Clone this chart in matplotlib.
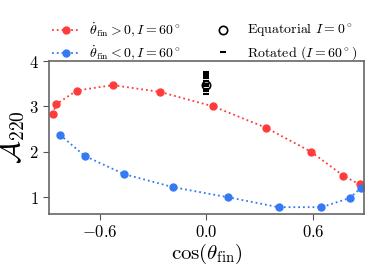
import numpy as np
import matplotlib
matplotlib.use('Agg')
from matplotlib import pyplot as plt

plt.rcParams['mathtext.fontset'] = 'cm'
plt.rcParams['font.family'] = 'serif'
plt.rcParams['font.serif'] = ['cmr10']
plt.rcParams['axes.formatter.use_mathtext'] = True

# theta_dot > 0 branch
cos_pos = [-0.866, -0.848, -0.731, -0.528, -0.262, 0.039, 0.336, 0.590, 0.772, 0.864]
amp_pos = [2.83, 3.045, 3.35, 3.47, 3.32, 3.00, 2.53, 2.00, 1.47, 1.28]

# theta_dot < 0 branch
cos_neg = [-0.825, -0.686, -0.465, -0.187, 0.120, 0.406, 0.648, 0.806, 0.872]
amp_neg = [2.375, 1.91, 1.51, 1.22, 1.00, 0.78, 0.78, 0.98, 1.21]

# equatorial and rotated configurations
cos_eq = [0.0]
amp_eq = [3.47]
amp_rot = [3.28, 3.33, 3.38, 3.44, 3.50, 3.56, 3.62, 3.67, 3.72, 3.77]
cos_rot = [0.0] * len(amp_rot)

red = '#ff3b3b'
blue = '#3479f5'

fig = plt.figure(figsize=(3.74, 2.69), dpi=100)
ax = fig.add_axes([0.131, 0.2045, 0.842, 0.5685])

l1, = ax.plot(cos_pos, amp_pos, ':', color=red, marker='o', ms=5, lw=1.3)
l2, = ax.plot(cos_neg, amp_neg, ':', color=blue, marker='o', ms=5, lw=1.3)
l4, = ax.plot(cos_rot, amp_rot, ls='none', marker='_', color='k', ms=5, mew=1.5)
l3, = ax.plot(cos_eq, amp_eq, ls='none', marker='o', mfc='none', mec='k', ms=6, mew=1.2)

ax.set_xlim(-0.887, 0.887)
ax.set_ylim(0.63, 4.0)
ax.set_xticks([-0.6, 0.0, 0.6])
ax.set_yticks([1, 2, 3, 4])
ax.set_xticklabels([r'$-0.6$', r'$0.0$', r'$0.6$'])
ax.set_yticklabels([r'$1$', r'$2$', r'$3$', r'$4$'])
ax.tick_params(labelsize=12, length=4, color='#555555')
for s in ax.spines.values():
    s.set_color('#666666')
    s.set_linewidth(1.2)

ax.set_xlabel(r'$\cos(\theta_{\rm fin})$', fontsize=15, labelpad=1)
ax.set_ylabel(r'$\mathcal{A}_{220}$', fontsize=20)
ax.yaxis.set_label_coords(-0.07, 0.503)

fig.legend([l1, l2, l3, l4],
           [r'$\dot{\theta}_{\rm fin} > 0, I = 60^\circ$',
            r'$\dot{\theta}_{\rm fin} < 0, I = 60^\circ$',
            r'Equatorial $I = 0^\circ$',
            r'Rotated $(I = 60^\circ)$'],
           ncol=2, frameon=False, fontsize=10, loc='upper left',
           bbox_to_anchor=(0.105, 0.97), columnspacing=2.0, handlelength=2.0,
           handletextpad=0.7, labelspacing=0.35)

plt.savefig('out.png', dpi=100)
